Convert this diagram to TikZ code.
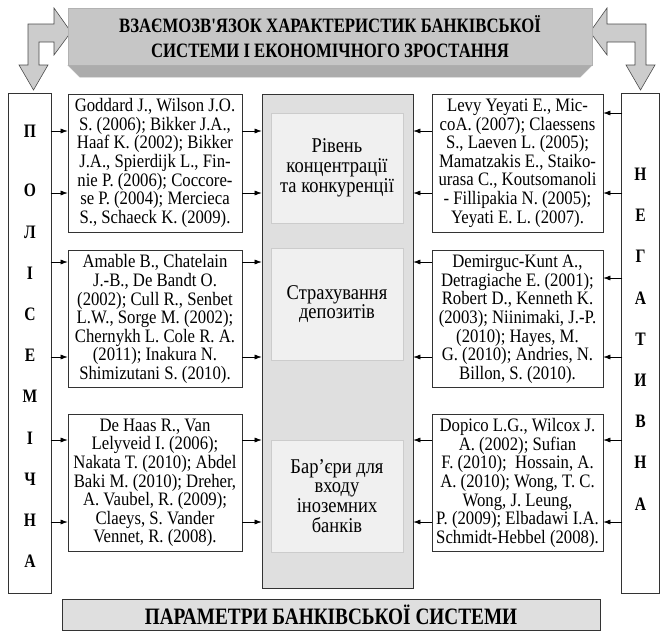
\documentclass[tikz,border=0pt]{standalone}
\usepackage{fontspec}
\setmainfont[FakeStretch=0.88]{Liberation Serif}
\newfontfamily\narrowfont[FakeStretch=0.82]{Liberation Serif}
\usepackage{tikz}
\usetikzlibrary{arrows.meta,positioning,calc}
\tikzstyle{BANNER_1} = [rectangle, draw=gray!60, fill=gray!45, align=center, minimum width=524pt, minimum height=57pt, inner sep=0pt, font=\narrowfont\bfseries\fontsize{20.4}{25}\selectfont]
\tikzstyle{BANNER_2} = [rectangle, draw=black!80, line width=0.7pt, fill=gray!25, align=center, minimum width=538pt, minimum height=31pt, inner sep=0pt, font=\narrowfont\bfseries\fontsize{23.5}{26}\selectfont]
\tikzstyle{SIDE_COL} = [rectangle, draw=black!80, double, double distance=2pt, line width=0.6pt, fill=white, inner sep=0pt]
\tikzstyle{SIDE_WORD} = [align=center, inner sep=0pt, font=\narrowfont\bfseries\fontsize{19}{41.2}\selectfont]
\tikzstyle{SOURCE_BOX} = [rectangle, draw=black!80, line width=0.7pt, fill=white, align=center, minimum height=137pt, inner sep=0pt, font=\fontsize{19}{18.6}\selectfont]
\tikzstyle{CENTRE_BOX} = [rectangle, draw=black!80, line width=0.7pt, fill=gray!25, minimum width=151pt, minimum height=494pt]
\tikzstyle{FACTOR_BOX} = [rectangle, draw=gray!40, fill=gray!12, align=center, minimum width=132pt, inner sep=0pt, font=\fontsize{21}{19.8}\selectfont]
\tikzstyle{BENT_ARROW} = [draw=gray!60!black, fill=gray!40, line width=0.6pt, line join=miter]
\tikzstyle{LINE} = [draw, line width=0.6pt, -{Latex[length=7pt,width=5pt]}]

\begin{document}
\begin{tikzpicture}[x=1pt, y=-1pt]
\useasboundingbox (0,0) rectangle (661,633);
% Bent arrows
\path [BENT_ARROW] (71,32) -- (54,55) -- (54,42) -- (39,42) -- (39,65) -- (48,65) -- (33.5,90) -- (19,65) -- (28,65) -- (28,24) -- (54,24) -- (54,8) -- cycle;
\path [BENT_ARROW] (590,32) -- (607,8) -- (607,24) -- (646,24) -- (646,65) -- (655,65) -- (640.5,90) -- (626,65) -- (635,65) -- (635,42) -- (607,42) -- (607,55) -- cycle;
% Place node
\node [BANNER_1] (TITLE) at (330,36.5) {ВЗАЄМОЗВ'ЯЗОК ХАРАКТЕРИСТИК БАНКІВСЬКОЇ\\ СИСТЕМИ І ЕКОНОМІЧНОГО ЗРОСТАННЯ};
\path [fill=gray!65, draw=gray!60] (TITLE.south west) -- (TITLE.south east) -- ++(-12,12) -- ($(TITLE.south west)+(12,12)$) -- cycle;
%
\node [SIDE_COL, minimum width=40.8pt, minimum height=497.8pt] (POS_COL) at (30,343.5) {};
\node [SIDE_WORD] (POS_WORD) at (30,346.5) {П\\[17.8pt] О\\ Л\\ І\\ С\\ Е\\ М\\ І\\ Ч\\ Н\\ А};
\node [SIDE_COL, minimum width=35.8pt, minimum height=497.8pt] (NEG_COL) at (640.5,343.5) {};
\node [SIDE_WORD] (NEG_WORD) at (640.5,339) {Н\\ Е\\ Г\\ А\\ Т\\ И\\ В\\ Н\\ А};
%
\node [CENTRE_BOX] (PARAMS) at (337.5,341) {};
\node [FACTOR_BOX, minimum height=110pt] (CONCENTRATION) at (337,168) {Рівень\\ концентрації\\ та конкуренції};
\node [FACTOR_BOX, minimum height=112pt] (INSURANCE) at (337,304) {Страхування\\ депозитів};
\node [FACTOR_BOX, minimum height=112pt] (BARRIERS) at (337,496) {Бар'єри для\\ входу\\ іноземних\\ банків};
%
\node [SOURCE_BOX, minimum width=174pt, minimum height=138pt] (POS_1) at (155,163) {Goddard J., Wilson J.O.\\ S. (2006); Bikker J.A.,\\ Haaf K. (2002); Bikker\\ J.A., Spierdijk L., Fin-\\ nie P. (2006); Coccore-\\ se P. (2004); Mercieca\\ S., Schaeck K. (2009).};
\node [SOURCE_BOX, minimum width=174pt, below=18pt of POS_1] (POS_2) {Amable B., Chatelain\\ J.-B., De Bandt O.\\ (2002); Cull R., Senbet\\ L.W., Sorge M. (2002);\\ Chernykh L. Cole R. A.\\ (2011); Inakura N.\\ Shimizutani S. (2010).};
\node [SOURCE_BOX, minimum width=174pt, below=26pt of POS_2] (POS_3) {De Haas R., Van\\ Lelyveid I. (2006);\\ Nakata T. (2010); Abdel\\ Baki M. (2010); Dreher,\\ A. Vaubel, R. (2009);\\ Claeys, S. Vander\\ Vennet, R. (2008).};
%
\node [SOURCE_BOX, minimum width=171pt, minimum height=138pt] (NEG_1) at (517.5,163) {Levy Yeyati E., Mic-\\ coA. (2007); Claessens\\ S., Laeven L. (2005);\\ Mamatzakis E., Staiko-\\ urasa C., Koutsomanoli\\ - Fillipakia N. (2005);\\ Yeyati E. L. (2007).};
\node [SOURCE_BOX, minimum width=171pt, below=18pt of NEG_1] (NEG_2) {Demirguc-Kunt A.,\\ Detragiache E. (2001);\\ Robert D., Kenneth K.\\ (2003); Niinimaki, J.-P.\\ (2010); Hayes, M.\\ G. (2010); Andries, N.\\ Billon, S. (2010).};
\node [SOURCE_BOX, minimum width=171pt, below=26pt of NEG_2] (NEG_3) {Dopico L.G., Wilcox J.\\ A. (2002); Sufian\\ F. (2010);\ \ Hossain, A.\\ A. (2010); Wong, T. C.\\ Wong, J. Leung,\\ P. (2009); Elbadawi I.A.\\ Schmidt-Hebbel (2008).};
%
\node [BANNER_2] (SYSTEM) at (331,615) {ПАРАМЕТРИ БАНКІВСЬКОЇ СИСТЕМИ};
% Rows of the arrows
\coordinate (A1) at (0,131); \coordinate (A2) at (0,193);
\coordinate (A3) at (0,262); \coordinate (A4) at (0,357);
\coordinate (A5) at (0,440); \coordinate (A6) at (0,522);
\coordinate (B1) at (0,113); \coordinate (B3) at (0,278);
% LINES and ARROWS
\path [LINE] (POS_COL.east |- A1) -- (POS_1.west |- A1);
\path [LINE] (POS_COL.east |- A2) -- (POS_1.west |- A2);
\path [LINE] (POS_COL.east |- A3) -- (POS_2.west |- A3);
\path [LINE] (POS_COL.east |- A4) -- (POS_2.west |- A4);
\path [LINE] (POS_COL.east |- A5) -- (POS_3.west |- A5);
\path [LINE] (POS_COL.east |- A6) -- (POS_3.west |- A6);
\path [LINE] (POS_1.east |- A1) -- (PARAMS.west |- A1);
\path [LINE] (POS_1.east |- A2) -- (PARAMS.west |- A2);
\path [LINE] (POS_2.east |- A3) -- (PARAMS.west |- A3);
\path [LINE] (POS_2.east |- A4) -- (PARAMS.west |- A4);
\path [LINE] (POS_3.east |- A5) -- (PARAMS.west |- A5);
\path [LINE] (POS_3.east |- A6) -- (PARAMS.west |- A6);
%
\path [LINE] (NEG_COL.west |- B1) -- (NEG_1.east |- B1);
\path [LINE] (NEG_COL.west |- A2) -- (NEG_1.east |- A2);
\path [LINE] (NEG_COL.west |- B3) -- (NEG_2.east |- B3);
\path [LINE] (NEG_COL.west |- A4) -- (NEG_2.east |- A4);
\path [LINE] (NEG_COL.west |- A5) -- (NEG_3.east |- A5);
\path [LINE] (NEG_COL.west |- A6) -- (NEG_3.east |- A6);
\path [LINE] (NEG_1.west |- A1) -- (PARAMS.east |- A1);
\path [LINE] (NEG_1.west |- A2) -- (PARAMS.east |- A2);
\path [LINE] (NEG_2.west |- A3) -- (PARAMS.east |- A3);
\path [LINE] (NEG_2.west |- A4) -- (PARAMS.east |- A4);
\path [LINE] (NEG_3.west |- A5) -- (PARAMS.east |- A5);
\path [LINE] (NEG_3.west |- A6) -- (PARAMS.east |- A6);
\end{tikzpicture}
\end{document}
